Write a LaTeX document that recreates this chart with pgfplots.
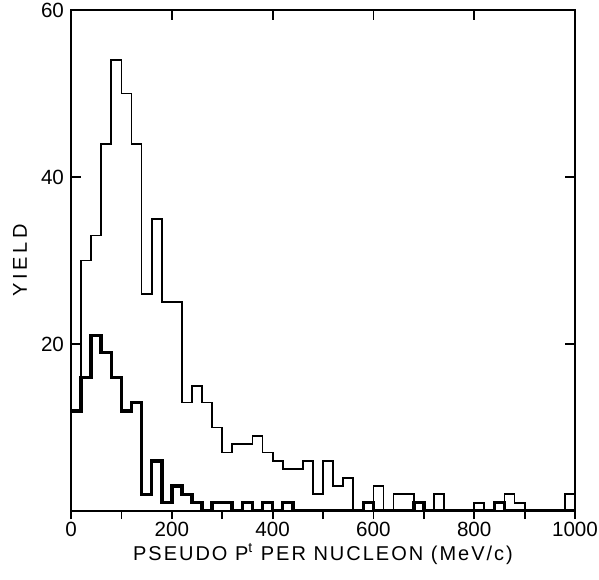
\documentclass[border=0pt]{standalone}
\usepackage{fontspec}
\setmainfont{Liberation Sans}
\newfontfamily\labfont[LetterSpace=10]{Liberation Sans}
\newfontfamily\ylabfont[LetterSpace=18]{Liberation Sans}
\usepackage{pgfplots}
\pgfplotsset{compat=1.18}
\begin{document}
\begin{tikzpicture}
\begin{axis}[
  name=main,
  width=252pt, height=250.5pt, scale only axis,
  xmin=0, xmax=1000, ymin=0, ymax=60,
  xtick={0,100,...,1000},
  xticklabels={0,,200,,400,,600,,800,,1000},
  xtick pos=bottom,
  ytick=\empty,
  tick align=outside,
  major tick length=4pt,
  every tick/.style={black, line width=0.9pt},
  axis line style={line width=0.9pt},
  /pgf/number format/assume math mode=true,
  xticklabel style={font=\fontsize{10.3}{12}\selectfont, yshift=2pt},
  xlabel={PSEUDO P\textsuperscript{t} PER NUCLEON (MeV/c)},
  xlabel style={font=\labfont\fontsize{10}{12}\selectfont, at={(axis description cs:0.5,0)}, anchor=center, yshift=-21.5pt},
]
\addplot[const plot, black, line width=0.9pt] coordinates {
(0,12) (20,30) (40,33) (60,44) (80,54) (100,50) (120,44) (140,26) (160,35) (180,25)
(200,25) (220,13) (240,15) (260,13) (280,10) (300,7) (320,8) (340,8) (360,9) (380,7)
(400,6) (420,5) (440,5) (460,6) (480,2) (500,6) (520,3) (540,4) (560,0) (580,1)
(600,3) (620,0) (640,2) (660,2) (680,1) (700,0) (720,2) (740,0) (760,0) (780,0)
(800,1) (820,0) (840,1) (860,2) (880,1) (900,0) (920,0) (940,0) (960,0) (980,2) (1000,2)
};
\addplot[const plot, black, line width=1.8pt] coordinates {
(0,12) (20,16) (40,21) (60,19) (80,16) (100,12) (120,13) (140,2) (160,6) (180,1)
(200,3) (220,2) (240,1) (260,0) (280,1) (300,1) (320,0) (340,1) (360,0) (380,1)
(400,0) (420,1) (440,0) (460,0) (480,0) (500,0) (520,0) (540,0) (560,0) (580,1)
(600,0) (620,0) (640,0) (660,0) (680,1) (700,0) (720,0) (740,0) (760,0) (780,0)
(800,0) (820,0) (840,1) (860,0) (880,0) (900,0) (920,0) (940,0) (960,0) (980,0) (1000,0)
};
\end{axis}
\begin{axis}[
  width=252pt, height=250.5pt, scale only axis,
  xmin=0, xmax=1000, ymin=0, ymax=60,
  xtick={200,400,600,800},
  xtick pos=top,
  xticklabels={},
  ytick={20,40,60},
  ytick pos=both,
  yticklabel pos=left,
  tick align=inside,
  major tick length=5pt,
  every tick/.style={black, line width=0.9pt},
  axis line style={line width=0.9pt},
  /pgf/number format/assume math mode=true,
  yticklabel style={font=\fontsize{10.3}{12}\selectfont},
  ylabel={YIELD},
  ylabel style={font=\ylabfont\fontsize{10}{12}\selectfont, at={(axis description cs:0,0.5)}, anchor=center, yshift=25.5pt},
]
\end{axis}
\pgfresetboundingbox
\path[use as bounding box] ([shift={(-35.5pt,-34pt)}]main.south west) rectangle ([shift={(12pt,5pt)}]main.north east);
\end{tikzpicture}
\end{document}
